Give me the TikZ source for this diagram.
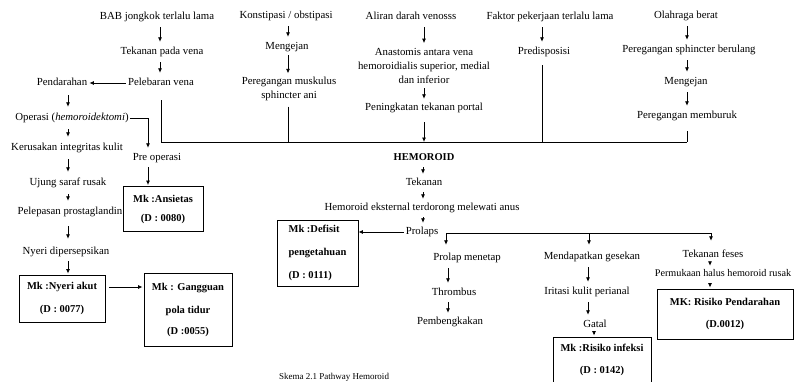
\documentclass[tikz,border=0pt]{standalone}
\usepackage{fontspec}
\setmainfont{Liberation Serif}
\usetikzlibrary{arrows.meta}
\begin{document}
\begin{tikzpicture}[x=1pt,y=-1pt,
  lbl/.style={inner sep=1pt, text height=7.5pt, text depth=2.5pt, font=\fontsize{10.8}{14}\selectfont},
  lbltwo/.style={inner sep=1pt, align=center, font=\fontsize{10.8}{14}\selectfont},
  box/.style={draw, line width=0.9pt, align=center, inner sep=2pt, font=\fontsize{10.5}{12}\selectfont\bfseries},
  arr/.style={draw, line width=0.8pt, -{Latex[length=4.5pt,width=4pt]}, shorten <=4pt, shorten >=4pt},
  ln/.style={draw, line width=0.8pt}]
\useasboundingbox (0,0) rectangle (795,381);
\clip (0,0) rectangle (795,381);
\fill[white] (0,0) rectangle (795,381);

% column helpers
\coordinate (x68) at (68,0);
\coordinate (x148) at (148,0);
\coordinate (x160) at (160,0);
\coordinate (x288) at (288,0);
\coordinate (x423) at (423,0);
\coordinate (x424) at (424,0);
\coordinate (x448) at (448,0);
\coordinate (x542) at (542,0);
\coordinate (x588) at (588,0);
\coordinate (x594) at (594,0);
\coordinate (x687) at (687,0);
\coordinate (x710) at (710,0);
\coordinate (r287) at (0,287);

% left branch
\node[lbl] (bab) at (157,17) {BAB jongkok terlalu lama};
\node[lbl] (tek) at (162,52) {Tekanan pada vena};
\node[lbl] (pel) at (161,83) {Pelebaran vena};
\node[lbl] (pend) at (62,83) {Pendarahan};
\node[lbl] (op) at (72,118) {Operasi (\textit{hemoroidektomi})};
\node[lbl] (ker) at (67,148) {Kerusakan integritas kulit};
\node[lbl] (uj) at (68,183) {Ujung saraf rusak};
\node[lbl] (pelp) at (70,212) {Pelepasan prostaglandin};
\node[lbl] (nyd) at (66,252) {Nyeri dipersepsikan};
\node[lbl] (pre) at (157,158) {Pre operasi};
\node[box, minimum width=80pt, minimum height=45pt] (ans) at (163,209) {Mk :Ansietas\\[7pt](D : 0080)};
\node[box, minimum width=86pt, minimum height=47pt] (nya) at (62,298.5) {Mk :Nyeri akut\\[11pt](D : 0077)};
\node[box, minimum width=88pt, minimum height=73pt] (gg) at (188,309.5) {Mk : Gangguan\\[11pt]pola tidur\\[9pt](D :0055)};

% top branches
\node[lbl] (kon) at (286,16) {Konstipasi / obstipasi};
\node[lbl] (men1) at (287,47) {Mengejan};
\node[lbltwo] (pmk) at (289,88.5) {Peregangan muskulus\\sphincter ani};
\node[lbl] (ali) at (411,17) {Aliran darah venosss};
\node[lbltwo] (ana) at (424,66) {Anastomis antara vena\\hemoroidialis superior, medial\\dan inferior};
\node[lbl] (pen) at (424,108) {Peningkatan tekanan portal};
\node[lbl] (fak) at (550,17) {Faktor pekerjaan terlalu lama};
\node[lbl] (pred) at (544,52) {Predisposisi};
\node[lbl] (ola) at (686,16) {Olahraga berat};
\node[lbl] (psb) at (689,50) {Peregangan sphincter berulang};
\node[lbl] (men2) at (686,82) {Mengejan};
\node[lbl] (pm) at (687,116) {Peregangan memburuk};

% centre
\node[lbl, font=\fontsize{10.5}{12}\selectfont\bfseries] (hem) at (424,158) {HEMOROID};
\node[lbl] (tkn) at (424,183) {Tekanan};
\node[lbl] (hek) at (422,208) {Hemoroid eksternal terdorong melewati anus};
\node[lbl] (pro) at (422,232) {Prolaps};
\node[box, align=left, minimum width=81pt, minimum height=66pt] (def) at (317.5,253) {Mk :Defisit\\[11.5pt]pengetahuan\\[11pt](D : 0111)};
\node[lbl] (prm) at (467,258) {Prolap menetap};
\node[lbl] (thr) at (454,293) {Thrombus};
\node[lbl] (pbk) at (450,322) {Pembengkakan};
\node[lbl] (mdg) at (592,257) {Mendapatkan gesekan};
\node[lbl] (irk) at (587,292) {Iritasi kulit perianal};
\node[lbl] (gat) at (595,325) {Gatal};
\node[box, minimum width=98pt, minimum height=46pt] (ri) at (602,360) {Mk :Risiko infeksi\\[10pt](D : 0142)};
\node[lbl] (tf) at (713,255) {Tekanan feses};
\node[lbl, font=\fontsize{10.2}{14}\selectfont] (phr) at (723,274) {Permukaan halus hemoroid rusak};
\node[box, minimum width=136pt, minimum height=50pt] (rp) at (725,314) {MK: Risiko Pendarahan\\[10pt](D.0012)};

\node[anchor=base, inner sep=0pt, font=\fontsize{9}{11}\selectfont] (cap) at (334,379.5) {Skema 2.1 Pathway Hemoroid};

% bus coordinates
\coordinate (busL) at (161,142);
\coordinate (busR) at (687,142);
\coordinate (pb) at (446,233);
\coordinate (pm1) at (589,233);
\coordinate (pbR) at (711,233);

% main bus
\draw[ln] (busL) -- (busR);
\draw[ln, shorten <=11pt] (pel.south) -- (pel.south |- busL);
\draw[ln, shorten <=5pt] (pmk.south -| x288) -- (busL -| x288);
\draw[arr, shorten <=8pt, shorten >=0pt] (pen.south -| x424) -- (busL -| x424);
\draw[ln, shorten <=7pt] (pred.south -| x542) -- (busL -| x542);
\draw[ln, shorten <=9pt] (pm.south -| x687) -- (busR);

% left chain
\draw[arr] (bab.south -| x160) -- (tek.north -| x160);
\draw[arr] (tek.south -| x160) -- (pel.north -| x160);
\draw[arr, shorten <=1pt, shorten >=1pt] (pel.west) -- (pend.east);
\draw[arr, shorten <=6pt, shorten >=5pt] (pend.south -| x68) -- (op.north -| x68);
\draw[arr, shorten <=5pt, shorten >=5pt] (op.south -| x68) -- (ker.north -| x68);
\draw[arr, shorten <=5pt, shorten >=5pt] (ker.south -| x68) -- (uj.north -| x68);
\draw[arr, shorten <=5pt, shorten >=5pt] (uj.south -| x68) -- (pelp.north -| x68);
\draw[arr, shorten <=8pt, shorten >=7pt] (pelp.south -| x68) -- (nyd.north -| x68);
\draw[arr, shorten <=3pt, shorten >=1pt] (nyd.south -| x68) -- (nya.north -| x68);
\draw[arr, shorten <=4pt, shorten >=1pt] (nya.east |- r287) -- (gg.west |- r287);
\draw[arr, shorten <=0pt, shorten >=4pt] (op.east) -| (pre.north -| x148);
\draw[arr, shorten <=3pt, shorten >=1pt] (pre.south -| x148) -- (ans.north -| x148);

% top chains
\draw[arr] (kon.south -| x288) -- (men1.north -| x288);
\draw[arr, shorten <=2pt, shorten >=2pt] (men1.south -| x288) -- (pmk.north -| x288);
\draw[arr] (ali.south -| x424) -- (ana.north -| x424);
\draw[arr, shorten <=3pt, shorten >=3pt] (ana.south -| x424) -- (pen.north -| x424);
\draw[arr] (fak.south -| x542) -- (pred.north -| x542);
\draw[arr] (ola.south -| x687) -- (psb.north -| x687);
\draw[arr] (psb.south -| x687) -- (men2.north -| x687);
\draw[arr] (men2.south -| x687) -- (pm.north -| x687);

% centre chain
\draw[arr, shorten <=3pt, shorten >=3pt] (hem.south -| x423) -- (tkn.north -| x423);
\draw[arr, shorten <=3pt, shorten >=3pt] (tkn.south -| x423) -- (hek.north -| x423);
\draw[arr, shorten <=3pt, shorten >=3pt] (hek.south -| x423) -- (pro.north -| x423);
\draw[arr, shorten <=1pt, shorten >=0pt] (pro.west) -- (pro.west -| def.east);

% prolaps branches
\draw[ln] (pb) -- (pbR);
\draw[arr, shorten <=0pt, shorten >=7pt] (pb) -- (prm.north -| pb);
\draw[arr, shorten <=0pt, shorten >=6pt] (pm1) -- (mdg.north -| pm1);
\draw[arr, shorten <=0pt, shorten >=8pt] (pbR) -- (tf.north -| pbR);
\draw[arr] (prm.south -| x448) -- (thr.north -| x448);
\draw[arr, shorten <=3pt, shorten >=3pt] (thr.south -| x448) -- (pbk.north -| x448);
\draw[arr] (mdg.south -| x588) -- (irk.north -| x588);
\draw[arr] (irk.south -| x588) -- (gat.north -| x588);
\draw[arr, shorten <=3pt, shorten >=1pt] (gat.south -| x594) -- (ri.north -| x594);
\draw[arr, shorten <=2pt, shorten >=2pt] (tf.south -| x710) -- (phr.north -| x710);
\draw[arr, shorten <=3pt, shorten >=1pt] (phr.south -| x710) -- (rp.north -| x710);
\end{tikzpicture}
\end{document}
